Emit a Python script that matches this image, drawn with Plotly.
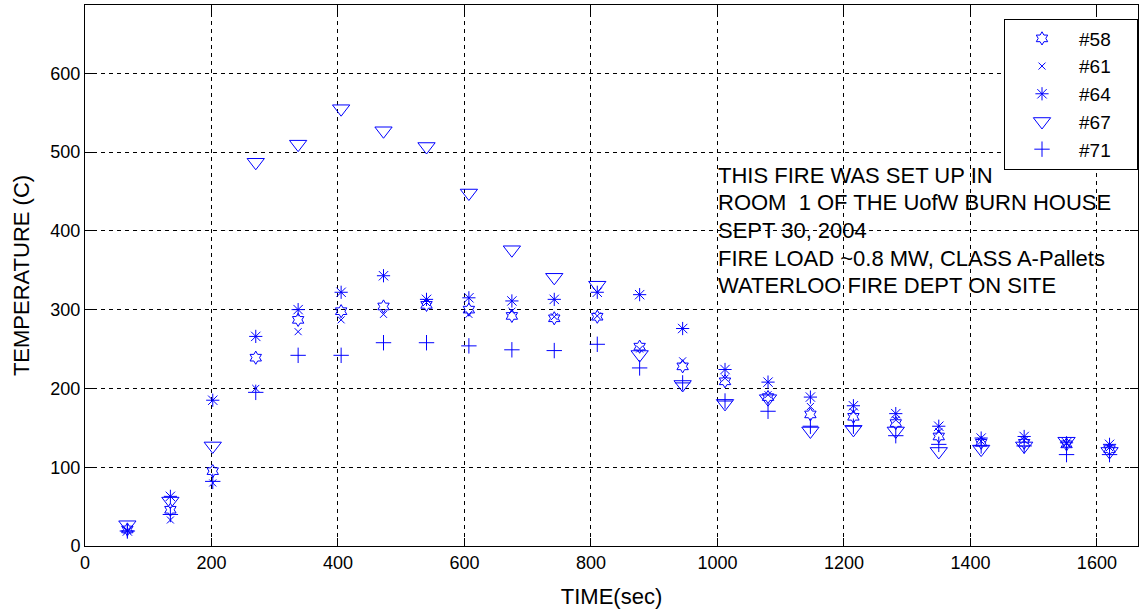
import plotly.graph_objects as go

time_s = [67, 135, 202, 270, 337, 405, 472, 540, 607, 675, 742, 810,
          877, 945, 1012, 1080, 1147, 1215, 1282, 1350, 1417, 1485, 1552, 1620]

t58 = [21, 46, 95, 239, 287, 298, 304, 306, 300, 292, 289, 291,
       253, 228, 209, 189, 167, 164, 156, 139, 131, 131, 129, 123]
t61 = [20, 33, 80, 200, 272, 287, 294, 309, 294, 298, 291, 292,
       250, 235, 213, 192, 177, 170, 160, 145, 133, 134, 130, 125]
t64 = [19, 63, 185, 266, 300, 322, 343, 313, 315, 311, 313, 322,
       319, 276, 224, 208, 189, 178, 168, 152, 137, 139, 131, 129]
t67 = [27, 57, 127, 487, 510, 555, 527, 507, 448, 376, 341, 331,
       243, 205, 181, 187, 146, 148, 146, 120, 123, 127, 133, 120]
t71 = [19, 40, 82, 195, 242, 242, 258, 258, 254, 249, 248, 256,
       226, 207, 184, 171, 152, 152, 140, 129, 127, 127, 116, 116]

series_names = ["#58", "#61", "#64", "#67", "#71"]
series_vals = [t58, t61, t64, t67, t71]
symbols = ["hexagram-open", "x-thin-open", "asterisk-open", "triangle-down-open", "cross-thin-open"]
sizes = [10, 7, 11, 15, 11]

note_lines = [
    "THIS FIRE WAS SET UP IN",
    "ROOM  1 OF THE UofW BURN HOUSE",
    "SEPT 30, 2004",
    "FIRE LOAD ~0.8 MW, CLASS A-Pallets",
    "WATERLOO FIRE DEPT ON SITE",
]
note_y = [470, 436, 400, 365, 331]
note_x = 1002

FONT = "Liberation Sans, Arial, sans-serif"
BLUE = "#0000ff"
PAD = "\u00a0" * 4

fig = go.Figure()
for name, vals, sym, sz in zip(series_names, series_vals, symbols, sizes):
    fig.add_trace(go.Scatter(
        x=time_s, y=vals, mode="markers", name=name + PAD,
        marker=dict(symbol=sym, size=sz, color=BLUE,
                    line=dict(color=BLUE, width=1)),
    ))

for txt, yy in zip(note_lines, note_y):
    fig.add_annotation(x=note_x, y=yy, text=txt, showarrow=False,
                       xanchor="left", yanchor="middle", xshift=-3,
                       font=dict(family=FONT, size=22, color="#000000"))

axis_common = dict(
    showline=True, linecolor="#000000", linewidth=1, mirror="ticks",
    ticks="inside", ticklen=8, tickcolor="#000000", tickwidth=1,
    showgrid=True, gridcolor="#000000", gridwidth=1, griddash="4px,4px",
    zeroline=False,
    tickfont=dict(family=FONT, size=18, color="#000000"),
)

fig.update_xaxes(range=[0, 1665], tickvals=[0, 200, 400, 600, 800, 1000, 1200, 1400, 1600],
                 title=dict(text="TIME(sec)", standoff=17,
                            font=dict(family=FONT, size=22, color="#000000")),
                 **axis_common)
fig.update_yaxes(range=[0, 686.6], tickvals=[0, 100, 200, 300, 400, 500, 600],
                 title=dict(text="TEMPERATURE (C)", standoff=14,
                            font=dict(family=FONT, size=22, color="#000000")),
                 **axis_common)

fig.update_layout(
    width=1141, height=613,
    margin=dict(l=85, r=3, t=5, b=67, autoexpand=False),
    paper_bgcolor="#ffffff", plot_bgcolor="#ffffff",
    font=dict(family=FONT, size=18, color="#000000"),
    legend=dict(x=1, y=0.975, xanchor="right", yanchor="top",
                bgcolor="#ffffff", bordercolor="#000000", borderwidth=1,
                font=dict(family=FONT, size=19, color="#000000"),
                itemwidth=64, tracegroupgap=0),
    showlegend=True,
)

fig.write_html("out.html", config={"displayModeBar": False},
               post_script="document.body.style.margin='0px';")
